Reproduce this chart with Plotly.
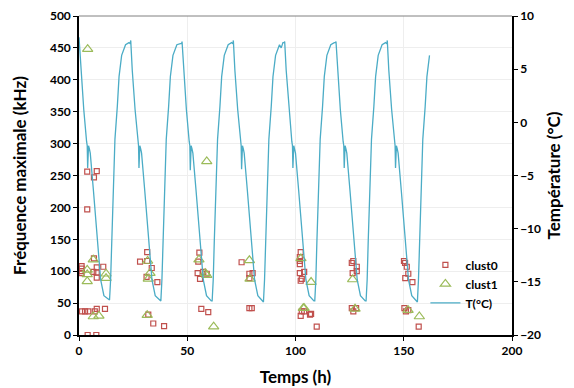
import plotly.graph_objects as go

# ---- data ----
clust0_h = [1.2, 1.2, 1.2, 1.2, 3.8, 8.2, 6.9, 3.8, 6.6, 8.2, 8.2, 8.2, 6.9, 11.2, 1.4, 2.8, 4.3, 8.2, 7.3, 12.0, 4.0, 8.0,
            28.2, 31.5, 31.5, 33.6, 31.2, 36.2, 32.0, 34.3, 39.3,
            55.6, 55.1, 54.8, 55.9, 57.4, 59.0, 56.5, 59.7,
            75.1, 78.7, 80.2, 78.7, 78.7, 79.8,
            102.4, 102.0, 102.0, 102.0, 102.0, 104.0, 102.9, 102.4, 102.9, 102.4, 104.0, 107.2, 106.7, 109.8,
            126.0, 126.7, 128.3, 128.3, 126.4, 126.0, 126.7, 128.0,
            150.1, 150.6, 151.4, 152.1, 150.7, 154.0, 150.3, 151.0, 152.1, 156.9]
clust0_f = [108, 104, 100, 97, 256, 257, 247, 197, 99, 106, 98, 90, 120, 107, 37, 37, 37, 41, 37, 41, 0, 0,
            115, 130, 116, 105, 91, 83, 32, 18, 14,
            129, 115, 97, 88, 99, 96, 41, 36,
            114, 96, 97, 89, 42, 42,
            130, 122, 116, 111, 97, 99, 88, 85, 37, 30, 37, 33, 32, 13,
            113, 116, 107, 100, 97, 42, 37, 42,
            116, 113, 107, 96, 89, 83, 42, 37, 39, 13]

clust1_h = [4.0, 6.6, 3.8, 3.8, 12.5, 12.5, 6.6, 9.2, 3.8,
            31.5, 32.0, 32.8, 31.7,
            55.4, 58.3, 59.0, 62.2, 59.0,
            78.7, 79.0,
            102.5, 103.6, 104.0, 107.2,
            126.4, 127.5,
            152.0, 157.2]
clust1_f = [448, 118, 102, 84, 96, 89, 29, 30, 95,
            31, 88, 97, 116,
            118, 97, 94, 13, 272,
            117, 88,
            120, 42, 42, 83,
            87, 41,
            39, 29]

temp_h = [0.0, 0.9, 2.2, 3.5, 3.8, 4.0, 4.4, 4.8, 5.2, 6.7, 8.5, 10.0, 11.5, 12.7, 13.7, 14.1, 14.6, 15.1, 15.9, 16.6, 17.7, 18.5, 19.7, 21.5, 23.1, 23.7, 23.9,
          24.6, 25.9, 27.2, 27.5, 27.7, 28.1, 28.5, 28.9, 30.4, 32.2, 33.7, 35.2, 36.4, 37.4, 37.8, 38.3, 38.8, 39.6, 40.3, 41.4, 42.2, 43.4, 45.2, 46.8, 47.4, 47.6,
          48.3, 49.6, 50.9, 51.2, 51.4, 51.8, 52.2, 52.6, 54.1, 55.9, 57.4, 58.9, 60.1, 61.1, 61.5, 62.0, 62.5, 63.3, 64.0, 65.1, 65.9, 67.1, 68.9, 70.5, 71.1, 71.3,
          72.0, 73.3, 74.6, 74.9, 75.1, 75.5, 75.9, 76.3, 77.8, 79.6, 81.1, 82.6, 83.8, 84.8, 85.2, 85.7, 86.2, 87.0, 87.7, 88.8, 89.6, 90.8, 92.6, 93.4, 94.2, 94.8, 95.0,
          95.7, 97.0, 98.3, 98.6, 98.8, 99.2, 99.6, 100.0, 101.5, 103.3, 104.8, 106.3, 107.5, 108.5, 108.9, 109.4, 109.9, 110.7, 111.4, 112.5, 113.3, 114.5, 116.3, 117.9, 118.5, 118.7,
          119.4, 120.7, 122.0, 122.3, 122.5, 122.9, 123.3, 123.7, 125.2, 127.0, 128.5, 130.0, 131.2, 132.2, 132.6, 133.1, 133.6, 134.4, 135.1, 136.2, 137.0, 138.2, 140.0, 141.6, 142.2, 142.4,
          143.1, 144.4, 145.7, 146.0, 146.2, 146.6, 147.0, 147.4, 148.9, 150.7, 152.2, 153.7, 154.9, 155.9, 156.3, 156.8, 157.3, 158.1, 158.8, 159.9, 160.7, 161.9]
temp_c = [8.0, 4.9, 1.2, -1.8, -2.2, -4.3, -2.2, -2.5, -2.9, -6.5, -11.0, -14.8, -16.3, -16.5, -16.7, -16.7, -14.8, -11.1, -4.8, -1.6, 1.5, 4.3, 6.3, 7.3, 7.5, 7.4, 7.7,
          4.9, 1.2, -1.8, -2.2, -4.3, -2.2, -2.5, -2.9, -6.5, -11.0, -14.8, -16.3, -16.5, -16.7, -16.8, -14.8, -11.1, -4.8, -1.6, 1.5, 4.3, 6.3, 7.3, 7.4, 7.4, 7.6,
          4.9, 1.2, -1.8, -2.2, -4.5, -2.2, -2.5, -2.9, -6.5, -11.0, -14.8, -16.3, -16.6, -16.8, -16.8, -14.8, -11.1, -4.8, -1.6, 1.5, 4.3, 6.3, 7.3, 7.5, 7.4, 7.7,
          4.9, 1.2, -1.8, -2.2, -4.4, -2.2, -2.5, -2.9, -6.5, -11.0, -14.8, -16.3, -16.6, -16.9, -16.9, -14.8, -11.1, -4.8, -1.6, 1.5, 4.3, 6.3, 7.3, 7.0, 7.5, 7.5, 7.6,
          4.9, 1.2, -1.8, -2.2, -4.3, -2.2, -2.5, -2.9, -6.5, -11.0, -14.8, -16.3, -16.6, -16.8, -16.8, -14.8, -11.1, -4.8, -1.6, 1.5, 4.3, 6.3, 7.3, 7.5, 7.5, 7.6,
          4.9, 1.2, -1.8, -2.2, -4.3, -2.2, -2.5, -2.9, -6.5, -11.0, -14.8, -16.3, -16.6, -16.8, -16.8, -14.8, -11.1, -4.8, -1.6, 1.5, 4.3, 6.3, 7.3, 7.5, 7.4, 7.7,
          4.9, 1.2, -1.8, -2.2, -4.3, -2.2, -2.5, -2.9, -6.5, -11.0, -14.8, -16.3, -16.6, -16.9, -16.9, -14.8, -11.1, -4.8, -1.6, 1.5, 4.3, 6.3]

FONT = "Lato"
TICKF = dict(size=12, family=FONT, weight="bold", color="black")
TITLEF = dict(size=17, family=FONT, weight="bold", color="black")

fig = go.Figure()
fig.add_trace(go.Scatter(x=clust0_h, y=clust0_f, mode="markers", name="clust0",
                         marker=dict(symbol="square-open", size=5, color="#c0504d", line=dict(width=1.2))))
fig.add_trace(go.Scatter(x=clust1_h, y=clust1_f, mode="markers", name="clust1",
                         marker=dict(symbol="triangle-up-open", size=9, color="#9bbb59", line=dict(width=1.2))))
fig.add_trace(go.Scatter(x=temp_h, y=temp_c, mode="lines", name="T(°C)", yaxis="y2",
                         line=dict(color="#4bacc6", width=1.3)))

fig.update_layout(
    width=574, height=388,
    margin=dict(l=79, r=62, t=16, b=53, autoexpand=False),
    paper_bgcolor="white", plot_bgcolor="white",
    font=dict(family=FONT, color="black", size=11),
    showlegend=True,
    legend=dict(x=0.80, y=0.265, xanchor="left", yanchor="top",
                bgcolor="rgba(0,0,0,0)", font=dict(size=12, family=FONT, weight="bold"),
                itemwidth=30, tracegroupgap=0),
    xaxis=dict(range=[0, 200], tickvals=[0, 50, 100, 150, 200], showgrid=True, gridcolor="#eeeeee",
               showline=True, linecolor="black", linewidth=1.5, ticks="outside", ticklen=4, tickcolor="black",
               tickfont=TICKF, zeroline=False, automargin=False,
               title=dict(text="Temps (h)", font=TITLEF, standoff=14)),
    yaxis=dict(range=[0, 500], tickvals=list(range(0, 501, 50)), showgrid=True, gridcolor="#eeeeee",
               showline=True, linecolor="black", linewidth=1.5, ticks="outside", ticklen=4, tickcolor="black",
               tickfont=TICKF, zeroline=False, automargin=False,
               title=dict(text="Fréquence maximale (kHz)", font=TITLEF, standoff=19)),
    yaxis2=dict(range=[-20, 10], tickvals=[-20, -15, -10, -5, 0, 5, 10], overlaying="y", side="right",
                showgrid=False, showline=True, linecolor="black", linewidth=1.5, ticks="outside", ticklen=4,
                tickcolor="black", tickfont=TICKF, zeroline=False, automargin=False,
                title=dict(text="Température (°C)", font=TITLEF, standoff=8)),
    shapes=[dict(type="line", xref="paper", yref="paper", x0=0, x1=1, y0=1, y1=1,
                 line=dict(color="#808080", width=1))],
)

fig.write_html("out.html", config={"displayModeBar": False},
               post_script="document.body.style.margin='0';document.body.style.overflow='hidden';")
